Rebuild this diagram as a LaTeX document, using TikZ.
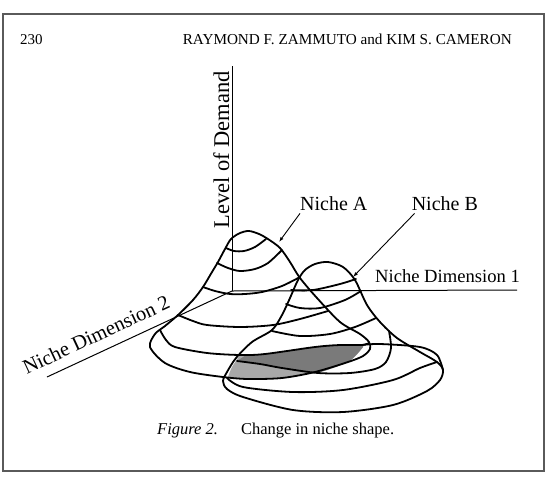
\documentclass[tikz,border=0pt]{standalone}
\usepackage{fontspec}
\setmainfont{Liberation Serif}
\usepackage{tikz}
\usetikzlibrary{positioning,arrows.meta}
\definecolor{frameg}{HTML}{5A5A5A}
\definecolor{dotd}{HTML}{7A7A7A}
\definecolor{dotl}{HTML}{A8A8A8}

\begin{document}
\begin{tikzpicture}[x=1pt, y=-1pt, >=Latex,
  hill/.style={line width=1.8pt, line join=round, line cap=round},
  axis/.style={line width=1pt},
  lbl/.style={inner sep=0pt, font=\fontsize{20}{24}\selectfont},
  lead/.style={-{Latex[length=5pt,width=3.5pt]}, line width=0.9pt}]
  \useasboundingbox (0,0) rectangle (547,491);
  \draw[line width=1.2pt, draw=frameg] (3,14) rectangle (544,471);
  % running head
  \node[anchor=base west, inner sep=0pt, font=\fontsize{15}{18}\selectfont] (page) at (20,44) {230};
  \node[anchor=base east, inner sep=0pt, font=\fontsize{15.2}{18}\selectfont] (authors) at (512,44) {RAYMOND F. ZAMMUTO and KIM S. CAMERON};

  % axes
  \coordinate (origin) at (232,291);
  \coordinate (demandtop) at (232,66);
  \coordinate (dimoneend) at (517,290);
  \coordinate (dimtwoend) at (47,377);
  \draw[axis] (origin) -- (demandtop);
  \draw[axis] (origin) -- (dimoneend);
  \draw[axis] (origin) -- (dimtwoend);

  % overlap of the two niches
  \fill[dotl] plot[smooth] coordinates {(240,355) (265,354) (315,347) (340,345) (363,346)}
    -- plot[smooth] coordinates {(363,347) (348,362) (315,372) (282,378) (248,379) (228,377)}
    -- plot[smooth] coordinates {(228,377) (232,367) (240,355)} -- cycle;
  \fill[dotd] plot[smooth] coordinates {(246,355) (265,354) (315,347) (340,345) (363,346)}
    -- plot[smooth] coordinates {(363,347) (348,362) (318,373)}
    -- plot[smooth] coordinates {(318,373) (282,368) (260,364) (237,361)} -- cycle;

  % niche A
  \draw[hill] plot[smooth cycle] coordinates {(150,347) (155,334) (165,326) (178,315) (193,300)
    (203,287) (212,272) (218,262) (225,249) (231,239) (240,233) (249,231) (259,234) (268,239)
    (280,248) (290,262) (300,278) (317,298) (340,322) (360,334) (369,342) (370,349) (363,356)
    (348,362) (315,372) (282,378) (248,379) (223,377) (190,372) (165,363)};
  \draw[hill] plot[smooth] coordinates {(226,248) (234,251) (244,251) (255,247) (266,239)};
  \draw[hill] plot[smooth] coordinates {(217,263) (228,268) (240,271) (255,269) (268,263) (282,250)};
  \draw[hill] plot[smooth] coordinates {(203,287) (215,291) (230,294) (245,294) (262,292) (282,286) (300,277)};
  \draw[hill] plot[smooth] coordinates {(178,315) (193,321) (207,325) (240,327) (273,325) (300,319) (328,311)};
  \draw[hill] plot[smooth] coordinates {(160,330) (166,340) (175,347) (207,353) (240,355) (265,354)
    (315,347) (340,345) (362,345) (369,343)};

  % niche B
  \draw[hill] plot[smooth cycle] coordinates {(223,381) (227,372) (236,358) (252,342) (272,330)
    (282,315) (290,298) (298,280) (305,270) (315,264) (328,262) (343,267) (355,280) (367,305)
    (380,322) (397,338) (420,352) (437,362) (443,370) (440,380) (427,391) (393,405) (343,412)
    (293,410) (243,397) (227,389)};
  \draw[hill] plot[smooth] coordinates {(443,370) (437,355) (420,347) (380,344) (362,345)};
  \draw[hill] plot[smooth] coordinates {(291,290) (313,290) (340,284) (356,279)};
  \draw[hill] plot[smooth] coordinates {(286,304) (300,308) (320,308) (345,300) (361,291)};
  \draw[hill] plot[smooth] coordinates {(272,331) (300,336) (330,334) (355,327) (376,318)};
  \draw[hill] plot[smooth] coordinates {(237,361) (260,364) (282,368) (318,373) (350,373)
    (375,369) (386,362) (391,348) (389,331)};
  \draw[hill] plot[smooth] coordinates {(227,378) (243,387) (293,392) (343,390) (393,380) (420,368) (437,362)};

  % labels
  \node[lbl, rotate=90, anchor=base, font=\fontsize{22.5}{26}\selectfont] (demand) at (229,150) {Level of Demand};
  \node[lbl, anchor=base west] (nicheA) at (300,210) {Niche A};
  \node[lbl, right=44pt of nicheA] (nicheB) {Niche B};
  \node[lbl, anchor=base east, font=\fontsize{18.6}{22}\selectfont] (dimone) at (520,282) {Niche Dimension 1};
  \node[lbl, anchor=base, rotate=25, font=\fontsize{20.5}{24}\selectfont] (dimtwo) at (99,341) {Niche Dimension 2};
  \coordinate (tipA) at (279,242);
  \coordinate (tipB) at (353,277);
  \draw[lead] ([yshift=-3pt]nicheA.south west) -- (tipA);
  \draw[lead] ([xshift=3pt,yshift=-3pt]nicheB.south west) -- (tipB);

  \node[anchor=base west, inner sep=0pt, font=\fontsize{16.5}{20}\selectfont] (caption) at (157,434)
    {\textit{Figure 2.}\hspace{1.4em}Change in niche shape.};
\end{tikzpicture}
\end{document}
